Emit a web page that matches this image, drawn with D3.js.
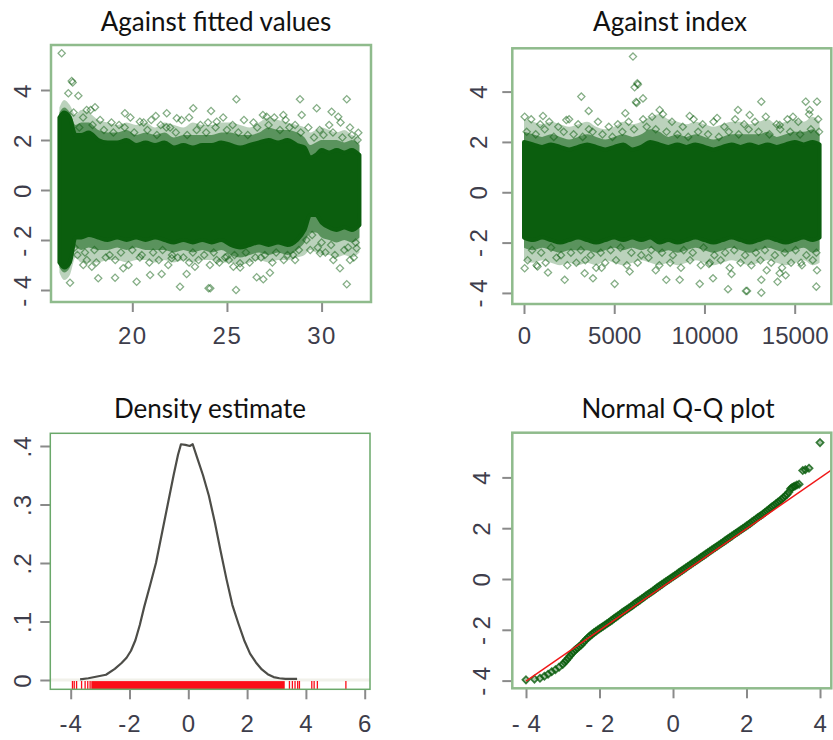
<!DOCTYPE html>
<html>
<head>
<meta charset="utf-8">
<script src="https://cdn.jsdelivr.net/npm/d3@7"></script>
<style>
  body { margin: 0; background: #ffffff; }
  svg { display: block; }
</style>
</head>
<body>
<svg id="chart" width="833" height="740"></svg>
<script>
// ---------------- Residual diagnostics data ----------------

// Residuals against fitted values: envelopes of the saturated core, the mid and the outer fringe
const fitGrid    = [16.15, 16.4, 16.7, 17.0, 17.3, 17.7, 18.2, 18.7, 19.2, 19.7, 20.2, 20.7, 21.2, 21.7, 22.2, 22.7, 23.2, 23.7, 24.2, 24.7, 25.2, 25.7, 26.2, 26.7, 27.2, 27.7, 28.2, 28.7, 29.1, 29.4, 29.7, 30.0, 30.4, 30.8, 31.2, 31.6, 32.0];
const fitCoreHi  = [2.9, 3.1, 2.9, 2.2, 2.2, 2.3, 2.0, 1.9, 1.9, 2.0, 1.8, 1.9, 1.8, 1.9, 1.7, 1.8, 1.7, 1.8, 1.8, 1.9, 1.8, 1.7, 1.8, 1.9, 2.0, 1.9, 2.0, 1.8, 1.7, 1.3, 1.4, 1.6, 1.5, 1.6, 1.5, 1.6, 1.4];
const fitMidHi   = [3.1, 3.3, 3.1, 2.6, 2.7, 2.7, 2.4, 2.3, 2.3, 2.4, 2.2, 2.3, 2.2, 2.3, 2.1, 2.2, 2.2, 2.2, 2.2, 2.3, 2.3, 2.2, 2.2, 2.3, 2.5, 2.4, 2.4, 2.3, 2.1, 1.8, 1.9, 2.0, 2.0, 2.0, 1.9, 2.0, 1.8];
const fitOutHi   = [3.3, 3.6, 3.4, 3.0, 3.2, 3.1, 2.8, 2.7, 2.6, 2.7, 2.6, 2.7, 2.5, 2.7, 2.6, 2.5, 2.7, 2.6, 2.6, 2.7, 2.7, 2.6, 2.5, 2.7, 2.9, 2.8, 2.7, 2.6, 2.5, 2.3, 2.4, 2.5, 2.4, 2.3, 2.4, 2.2, 2.1];
const fitCoreLo  = [-2.9, -3.1, -2.9, -1.9, -1.9, -1.8, -1.9, -2.0, -1.9, -2.0, -1.9, -2.0, -1.9, -2.0, -2.1, -2.0, -2.1, -2.0, -2.1, -2.0, -2.2, -2.3, -2.2, -2.1, -2.2, -2.1, -2.2, -2.0, -1.6, -1.0, -1.0, -1.3, -1.5, -1.6, -1.5, -1.6, -1.4];
const fitMidLo   = [-3.1, -3.3, -3.1, -2.3, -2.4, -2.3, -2.4, -2.4, -2.3, -2.4, -2.3, -2.4, -2.4, -2.4, -2.5, -2.4, -2.5, -2.4, -2.5, -2.4, -2.6, -2.7, -2.6, -2.5, -2.6, -2.5, -2.6, -2.4, -2.1, -1.7, -1.7, -1.9, -2.0, -2.1, -2.0, -2.1, -1.9];
const fitOutLo   = [-3.3, -3.6, -3.4, -2.7, -2.9, -2.9, -2.9, -2.8, -2.8, -2.9, -2.8, -2.8, -2.9, -2.8, -2.9, -2.8, -2.9, -2.8, -2.8, -2.9, -2.9, -3.0, -2.9, -2.8, -2.9, -2.8, -2.8, -2.7, -2.6, -2.4, -2.5, -2.6, -2.6, -2.7, -2.6, -2.7, -2.5];
// single residuals scattered through the fringe of the band
const fitEdgeFitted = [16.9, 17.4, 17.8, 18.3, 18.9, 19.3, 19.9, 20.6, 21.0, 21.5, 22.0, 22.6, 23.0, 23.6, 24.0, 24.8, 25.3, 25.9, 26.4, 26.9, 27.5, 28.1, 28.6, 29.3, 29.9, 30.4, 31.0, 31.5,
                       17.1, 17.6, 18.1, 18.6, 19.1, 19.8, 20.4, 20.9, 21.4, 21.9, 22.4, 23.0, 23.5, 24.1, 24.6, 25.1, 25.7, 26.2, 26.8, 27.4, 28.0, 28.5, 29.4, 29.8, 30.2, 30.7, 31.2, 31.7,
                       17.2, 17.9, 18.5, 19.0, 19.6, 20.1, 20.8, 21.3, 21.8, 22.3, 22.9, 23.4, 23.9, 24.4, 25.0, 25.6, 26.1, 26.6, 27.2, 27.8, 28.3, 28.9, 29.6, 30.1, 30.6, 31.1, 31.6, 31.9,
                       16.95, 17.5, 18.0, 18.8, 19.4, 20.0, 20.5, 21.1, 21.6, 22.1, 22.7, 23.2, 23.8, 24.3, 24.9, 25.4, 26.0, 26.5, 27.0, 27.6, 28.2, 28.8, 29.2, 29.5, 30.0, 30.5, 31.4, 31.8];
const fitEdgeResid  = [3.1, 2.9, 3.2, 2.8, 2.7, 2.6, 2.9, 2.7, 2.8, 2.6, 2.5, 2.8, 2.9, 2.6, 2.7, 2.9, 2.6, 2.8, 2.7, 3.0, 2.9, 2.8, 2.6, 2.5, 2.4, 2.6, 2.7, 2.5,
                       -2.6, -2.8, -2.9, -2.7, -2.8, -3.0, -2.7, -2.9, -2.8, -3.0, -2.7, -2.9, -2.8, -3.0, -2.9, -2.8, -3.1, -2.9, -2.7, -2.9, -2.8, -2.6, -2.4, -2.3, -2.5, -2.6, -2.4, -2.7,
                       2.5, 2.6, 2.4, 2.3, 2.5, 2.3, 2.4, 2.2, 2.5, 2.3, 2.2, 2.4, 2.3, 2.5, 2.4, 2.3, 2.2, 2.5, 2.6, 2.4, 2.5, 2.3, 2.1, 2.2, 2.3, 2.1, 2.2, 2.0,
                       -2.3, -2.5, -2.4, -2.6, -2.5, -2.4, -2.6, -2.5, -2.4, -2.6, -2.7, -2.5, -2.6, -2.5, -2.7, -2.6, -2.5, -2.7, -2.6, -2.5, -2.6, -2.4, -2.0, -1.8, -2.1, -2.2, -2.3, -2.1];
// isolated residuals well outside the band
const fitOutFitted = [16.27, 16.8, 16.85, 16.62, 17.15, 25.5, 28.86, 31.33, 23.22, 24.16, 29.74, 19.61, 21.24, 21.82, 30.53, 30.88, 31.94, 17.59, 18.03, 22.35, 27.1, 27.98, 28.95, 24.46, 20.4,
                      22.52, 24.03, 24.12, 25.48, 31.33, 20.23, 16.71, 18.2, 19.09, 21.55, 20.94, 22.87, 23.31, 26.57, 26.92, 27.27, 30.97, 31.5, 31.85, 30.62, 28.6, 29.92, 17.41, 17.86, 19.52, 22.08, 24.46, 25.34, 25.69, 24.99];
const fitOutResid  = [5.47, 4.36, 4.3, 3.87, 3.77, 3.63, 3.63, 3.63, 3.27, 3.16, 3.27, 3.07, 2.96, 3.07, 3.13, 2.93, 2.29, 3.2, 3.31, 2.87, 2.93, 3.0, 3.0, 2.73, 2.73,
                      -3.87, -3.93, -3.93, -4.0, -3.77, -3.67, -3.71, -3.53, -3.51, -3.36, -3.4, -3.36, -3.07, -3.49, -3.57, -3.31, -3.13, -2.8, -2.33, -2.8, -2.8, -2.53, -3.0, -3.07, -3.13, -2.73, -2.8, -3.07, -2.93, -2.67];

// Residuals against observation index
const idxGrid   = [1, 500, 1000, 1500, 2000, 2500, 3000, 3500, 4000, 4500, 5000, 5500, 6000, 6500, 7000, 7500, 8000, 8500, 9000, 9500, 10000, 10500, 11000, 11500, 12000, 12500, 13000, 13500, 14000, 14500, 15000, 15500, 16000, 16380];
const idxCoreHi = [2.0, 1.9, 1.8, 1.9, 1.8, 1.7, 1.8, 1.9, 1.8, 1.7, 1.8, 1.9, 1.7, 1.8, 2.0, 1.9, 1.8, 1.9, 1.8, 1.9, 1.8, 1.7, 1.8, 1.9, 1.8, 1.9, 1.8, 1.9, 1.8, 1.9, 2.0, 1.9, 2.0, 1.9];
const idxMidHi  = [2.4, 2.3, 2.2, 2.3, 2.2, 2.1, 2.2, 2.3, 2.2, 2.1, 2.2, 2.3, 2.2, 2.3, 2.5, 2.4, 2.2, 2.3, 2.2, 2.3, 2.2, 2.1, 2.2, 2.3, 2.3, 2.3, 2.3, 2.4, 2.2, 2.3, 2.4, 2.4, 2.5, 2.3];
const idxOutHi  = [2.9, 2.8, 2.7, 2.8, 2.7, 2.6, 2.7, 2.8, 2.6, 2.5, 2.6, 2.8, 2.7, 2.8, 3.0, 3.1, 2.9, 2.8, 2.7, 2.8, 2.7, 2.6, 2.7, 2.8, 2.8, 2.7, 2.8, 2.9, 2.7, 2.8, 2.9, 2.8, 3.0, 2.8];
const idxCoreLo = [-1.8, -1.9, -1.8, -1.9, -2.0, -1.9, -1.8, -1.9, -2.0, -1.9, -1.8, -1.9, -1.8, -1.9, -1.8, -2.0, -1.9, -2.0, -1.9, -1.8, -1.9, -2.0, -1.9, -1.8, -1.9, -2.0, -1.9, -1.8, -1.9, -2.0, -1.9, -1.8, -1.9, -1.8];
const idxMidLo  = [-2.2, -2.3, -2.2, -2.3, -2.4, -2.3, -2.3, -2.3, -2.4, -2.3, -2.2, -2.3, -2.2, -2.3, -2.2, -2.4, -2.3, -2.4, -2.3, -2.2, -2.3, -2.4, -2.3, -2.2, -2.3, -2.4, -2.3, -2.2, -2.3, -2.4, -2.3, -2.2, -2.4, -2.3];
const idxOutLo  = [-2.7, -2.8, -2.7, -2.8, -2.9, -2.8, -2.9, -2.8, -2.9, -2.7, -2.8, -2.9, -2.8, -2.7, -2.8, -2.9, -2.8, -2.9, -2.8, -2.7, -2.8, -2.9, -2.8, -2.7, -2.8, -2.9, -2.8, -2.7, -2.8, -2.9, -2.8, -2.7, -2.9, -2.8];
const idxEdgeIndex = [400, 900, 1400, 1900, 2500, 3000, 3600, 4100, 4700, 5200, 5800, 6600, 7100, 7700, 8200, 8800, 9400, 9900, 10500, 11100, 11700, 12200, 12800, 13400, 14000, 14600, 15200, 15800, 16300,
                      200, 700, 1200, 1800, 2400, 2900, 3400, 4000, 4500, 5100, 5700, 6300, 6900, 7500, 8100, 8700, 9200, 9800, 10300, 10900, 11400, 12000, 12600, 13100, 13700, 14300, 14800, 15400, 16000,
                      150, 650, 1150, 1650, 2200, 2750, 3250, 3800, 4350, 4900, 5450, 6100, 6800, 7300, 7900, 8500, 9100, 9650, 10200, 10800, 11350, 11900, 12450, 13000, 13600, 14200, 14750, 15300, 15900, 16350,
                      450, 950, 1500, 2050, 2600, 3150, 3700, 4250, 4800, 5350, 5950, 6500, 7050, 7650, 8250, 8850, 9350, 9950, 10550, 11150, 11650, 12250, 12850, 13350, 13900, 14450, 15050, 15650, 16200];
const idxEdgeResid = [2.9, 2.7, 2.8, 2.6, 2.9, 2.7, 2.5, 2.8, 2.6, 2.7, 2.8, 2.9, 3.0, 3.1, 2.8, 2.6, 2.9, 2.7, 2.8, 2.6, 2.9, 2.7, 2.8, 3.0, 2.7, 2.9, 2.8, 3.1, 2.9,
                      -2.7, -2.9, -2.8, -2.6, -2.9, -2.8, -2.7, -3.0, -2.8, -2.7, -2.9, -2.8, -2.6, -2.9, -2.8, -3.0, -2.7, -2.9, -2.8, -2.7, -3.0, -2.8, -2.9, -2.7, -2.8, -3.0, -2.8, -2.9, -2.7,
                      2.4, 2.3, 2.5, 2.2, 2.4, 2.3, 2.2, 2.4, 2.3, 2.2, 2.4, 2.5, 2.6, 2.5, 2.4, 2.3, 2.2, 2.4, 2.3, 2.2, 2.4, 2.3, 2.5, 2.4, 2.3, 2.5, 2.4, 2.3, 2.5, 2.4,
                      -2.3, -2.4, -2.2, -2.5, -2.4, -2.3, -2.5, -2.4, -2.3, -2.2, -2.4, -2.5, -2.3, -2.4, -2.5, -2.3, -2.4, -2.2, -2.5, -2.4, -2.3, -2.5, -2.4, -2.3, -2.5, -2.4, -2.3, -2.5, -2.4];
const idxOutIndex = [6040, 6280, 6310, 6130, 3177, 6595, 6206, 6240, 3584, 5615, 37, 1053, 13150, 15610, 16236, 11859, 9181, 7518, 15832, 14906, 14169, 12505, 10700, 2346,
                     37, 750, 1330, 2254, 3362, 3823, 5024, 5855, 7300, 7886, 8628, 9737, 10474, 11305, 12300, 12360, 13150, 13150, 14169, 14050, 14500, 16198, 16236, 15350, 13450, 11500, 10250, 4300];
const idxOutResid = [5.39, 4.33, 4.28, 4.17, 3.8, 3.73, 3.59, 3.55, 3.23, 3.14, 3.0, 3.03, 3.6, 3.6, 3.6, 3.27, 3.03, 3.27, 3.27, 3.0, 2.67, 3.07, 2.95, 2.87,
                     -3.02, -2.95, -3.19, -3.48, -3.22, -3.42, -3.64, -3.15, -3.1, -3.48, -3.48, -3.64, -3.42, -3.85, -3.92, -3.92, -3.99, -3.48, -3.22, -3.56, -3.3, -3.75, -3.1, -2.8, -3.1, -3.25, -2.85, -3.0];

// Kernel density estimate of the residuals
const densX = [-3.68, -3.4, -3.1, -2.8, -2.5, -2.27, -2.1, -1.95, -1.8, -1.65, -1.5, -1.3, -1.1, -0.9, -0.7, -0.5, -0.35, -0.25, -0.1, 0.05, 0.15, 0.3, 0.5, 0.7, 0.9, 1.1, 1.3, 1.5, 1.7, 1.9, 2.1, 2.3, 2.5, 2.7, 2.9, 3.1, 3.3, 3.5, 3.7];
const densY = [0.001, 0.003, 0.006, 0.009, 0.019, 0.029, 0.038, 0.05, 0.068, 0.094, 0.125, 0.162, 0.2, 0.25, 0.3, 0.35, 0.385, 0.403, 0.402, 0.4, 0.403, 0.38, 0.35, 0.315, 0.27, 0.22, 0.172, 0.128, 0.097, 0.068, 0.045, 0.03, 0.018, 0.01, 0.005, 0.003, 0.002, 0.002, 0.002];
// rug: solid run of residuals plus the sparse tail values
const rugRun   = [-3.3, 3.28];
const rugTicks = [-3.94, -3.88, -3.8, -3.63, -3.51, -3.42, -3.34, 3.44, 3.54, 3.63, 3.72, 3.78, 4.2, 4.28, 4.39, 5.36];

// Normal Q-Q plot: theoretical vs sample quantiles
const qqTheo = [-4.0, -3.77, -3.62, -3.5, -3.4, -3.3, -3.2, -3.1, -3.0, -2.95, -2.9, -2.85, -2.8, -2.75, -2.7, -2.65, -2.6, -2.55, -2.5, -2.45,
  -2.4, -2.35, -2.3, -2.25, -2.2, -2.15, -2.1, -2.05, -2.0, -1.95, -1.9, -1.85, -1.8, -1.75, -1.7, -1.65, -1.6, -1.55, -1.5, -1.45,
  -1.4, -1.35, -1.3, -1.25, -1.2, -1.15, -1.1, -1.05, -1.0, -0.95, -0.9, -0.85, -0.8, -0.75, -0.7, -0.65, -0.6, -0.55, -0.5, -0.45,
  -0.4, -0.35, -0.3, -0.25, -0.2, -0.15, -0.1, -0.05, 0.0, 0.05, 0.1, 0.15, 0.2, 0.25, 0.3, 0.35, 0.4, 0.45, 0.5, 0.55,
  0.6, 0.65, 0.7, 0.75, 0.8, 0.85, 0.9, 0.95, 1.0, 1.05, 1.1, 1.15, 1.2, 1.25, 1.3, 1.35, 1.4, 1.45, 1.5, 1.55,
  1.6, 1.65, 1.7, 1.75, 1.8, 1.85, 1.9, 1.95, 2.0, 2.05, 2.1, 2.15, 2.2, 2.25, 2.3, 2.35, 2.4, 2.45,
  2.5, 2.55, 2.6, 2.65, 2.7, 2.75, 2.8, 2.85, 2.9, 2.95, 3.0, 3.05, 3.1, 3.15, 3.2, 3.24, 3.28, 3.32, 3.37, 3.43, 3.53, 3.6, 3.7, 4.0];
const qqSample = [-3.97, -3.94, -3.91, -3.83, -3.75, -3.65, -3.57, -3.47, -3.36, -3.28, -3.2, -3.11, -3.02, -2.93, -2.85, -2.78, -2.72, -2.66, -2.6, -2.52,
  -2.43, -2.36, -2.29, -2.23, -2.17, -2.11, -2.06, -2.01, -1.96, -1.91, -1.86, -1.81, -1.76, -1.71, -1.66, -1.61, -1.55, -1.5, -1.45, -1.4,
  -1.34, -1.29, -1.24, -1.19, -1.14, -1.09, -1.04, -0.98, -0.93, -0.88, -0.83, -0.78, -0.73, -0.67, -0.62, -0.57, -0.52, -0.47, -0.42, -0.36,
  -0.31, -0.26, -0.21, -0.16, -0.11, -0.06, -0.01, 0.04, 0.09, 0.14, 0.19, 0.24, 0.29, 0.34, 0.39, 0.44, 0.49, 0.54, 0.59, 0.64,
  0.69, 0.74, 0.79, 0.84, 0.89, 0.94, 0.99, 1.04, 1.09, 1.14, 1.19, 1.24, 1.29, 1.34, 1.39, 1.44, 1.49, 1.54, 1.59, 1.64,
  1.69, 1.74, 1.79, 1.84, 1.89, 1.94, 1.99, 2.04, 2.09, 2.14, 2.19, 2.25, 2.3, 2.35, 2.41, 2.46, 2.51, 2.56,
  2.62, 2.68, 2.73, 2.79, 2.85, 2.9, 2.96, 3.02, 3.07, 3.13, 3.2, 3.27, 3.33, 3.42, 3.55, 3.6, 3.63, 3.66, 3.7, 3.73, 4.27, 4.3, 4.36, 5.37];
// reference line through the quartiles: [intercept, slope], drawn from the smallest quantile onward
const qqLine = [-0.02, 1.0];
const qqLineRange = [-4.0, 4.5];

// ---------------- Styling ----------------
const GREEN = "#0b5e0e";
const FRAME_LIGHT = "#8fbb8c";
const FRAME_DENS = "#6aa86a";
const TICK_COL = "#8a8a8a";
const LABEL_COL = "#3d3d4b";
const TITLE_FONT = "Lato, 'Open Sans', sans-serif";
const TICK_FONT = "'Liberation Sans', Arial, sans-serif";

const svg = d3.select("#chart");

// Panel frames in page pixels
const panels = {
  fitted: { x0: 51,    x1: 371,   y0: 45,    y1: 302,   xd: [15.705, 32.61], yd: [-4.48, 5.8],
            title: "Against fitted values", titleX: 216, titleY: 31,
            yLabX: 22, xLabY: 344, frame: FRAME_LIGHT, frameW: 2.5 },
  index:  { x0: 512.3, x1: 831.3, y0: 48.3,  y1: 304,   xd: [-648, 17029], yd: [-4.44, 5.72],
            title: "Against index", titleX: 670, titleY: 31,
            yLabX: 478, xLabY: 344, frame: FRAME_LIGHT, frameW: 2.5 },
  dens:   { x0: 50.3,  x1: 370,   y0: 433.3, y1: 689.3, xd: [-4.694, 6.18], yd: [-0.0159, 0.4217],
            title: "Density estimate", titleX: 210, titleY: 418,
            yLabX: 22, xLabY: 732, frame: FRAME_DENS, frameW: 1.5 },
  qq:     { x0: 512.3, x1: 831.3, y0: 432.7, y1: 688.3, xd: [-4.373, 4.307], yd: [-4.303, 5.76],
            title: "Normal Q-Q plot", titleX: 678, titleY: 418,
            yLabX: 481, xLabY: 732, frame: FRAME_LIGHT, frameW: 2.5 }
};

const yResTicks = [-4, -2, 0, 2, 4];
const yResLabels = ["- 4", "- 2", "0", "2", "4"];
const tickSpec = {
  fitted: { xt: [20, 25, 30], xl: ["20", "25", "30"], yt: yResTicks, yl: yResLabels, ls: 1.5 },
  index:  { xt: [0, 5000, 10000, 15000], xl: ["0", "5000", "10000", "15000"], yt: yResTicks, yl: yResLabels, ls: 0 },
  dens:   { xt: [-4, -2, 0, 2, 4, 6], xl: ["-4", "-2", "0", "2", "4", "6"], yt: [0, 0.1, 0.2, 0.3, 0.4], yl: ["0", ".1", ".2", ".3", ".4"], ls: 1 },
  qq:     { xt: [-4, -2, 0, 2, 4], xl: ["- 4", "- 2", "0", "2", "4"], yt: yResTicks, yl: yResLabels, ls: 0.5 }
};

function diamond(r) {
  return `M0,${-r}L${r},0L0,${r}L${-r},0Z`;
}

function buildPanel(key) {
  const p = panels[key];
  const t = tickSpec[key];
  const x = d3.scaleLinear().domain(p.xd).range([p.x0, p.x1]);
  const y = d3.scaleLinear().domain(p.yd).range([p.y1, p.y0]);
  const g = svg.append("g").attr("class", "panel-" + key);

  const clipId = "clip-" + key;
  svg.append("clipPath").attr("id", clipId)
    .append("rect").attr("x", p.x0).attr("y", p.y0)
    .attr("width", p.x1 - p.x0).attr("height", p.y1 - p.y0);

  const plot = g.append("g").attr("clip-path", `url(#${clipId})`);

  // axes: tick marks from d3, labels repositioned (y labels run along the axis)
  const xAxis = g.append("g").attr("transform", `translate(0,${p.y1})`)
    .call(d3.axisBottom(x).tickValues(t.xt).tickSize(10).tickFormat((d, i) => t.xl[i]));
  const yAxis = g.append("g").attr("transform", `translate(${p.x0},0)`)
    .call(d3.axisLeft(y).tickValues(t.yt).tickSize(10).tickFormat((d, i) => t.yl[i]));
  [xAxis, yAxis].forEach(a => {
    a.select(".domain").remove();
    a.selectAll(".tick line").attr("stroke", TICK_COL).attr("stroke-width", 2);
    a.selectAll(".tick text")
      .attr("fill", LABEL_COL)
      .style("font-family", TICK_FONT)
      .style("font-size", "24px")
      .style("letter-spacing", t.ls + "px");
  });
  xAxis.selectAll(".tick text")
    .attr("y", p.xLabY - p.y1).attr("dy", null)
    .attr("text-anchor", "middle");
  yAxis.selectAll(".tick text")
    .attr("x", 0).attr("dy", null)
    .attr("y", p.yLabX - p.x0)
    .attr("transform", "rotate(-90)")
    .attr("text-anchor", "middle")
    .attr("dominant-baseline", "central");

  g.append("text")
    .attr("x", p.titleX).attr("y", p.titleY)
    .attr("text-anchor", "middle")
    .style("font-family", TITLE_FONT)
    .style("font-size", "26px")
    .attr("fill", "#111")
    .text(p.title);

  return { g, plot, x, y, p };
}

function drawFrame(panel) {
  const p = panel.p;
  panel.g.append("rect")
    .attr("x", p.x0).attr("y", p.y0)
    .attr("width", p.x1 - p.x0).attr("height", p.y1 - p.y0)
    .attr("fill", "none")
    .attr("stroke", p.frame).attr("stroke-width", p.frameW);
}

// filled band between two envelopes; the saturated core gets a marker-wide rim
function drawBand(panel, grid, lo, hi, opacity, rim) {
  const area = d3.area()
    .x((d, i) => panel.x(grid[i]))
    .y0((d, i) => panel.y(lo[i]))
    .y1((d, i) => panel.y(hi[i]))
    .curve(d3.curveMonotoneX);
  panel.plot.append("path")
    .datum(grid)
    .attr("d", area)
    .attr("fill", GREEN)
    .attr("fill-opacity", opacity)
    .attr("stroke", rim ? GREEN : "none")
    .attr("stroke-width", rim ? 4 : 0)
    .attr("stroke-linejoin", "round");
}

function drawPoints(panel, xs, ys, opacity, width, fillOpacity) {
  panel.plot.append("g").selectAll("path")
    .data(xs)
    .join("path")
    .attr("transform", (d, i) => `translate(${panel.x(xs[i])},${panel.y(ys[i])})`)
    .attr("d", diamond(3.6))
    .attr("fill", fillOpacity ? GREEN : "none")
    .attr("fill-opacity", fillOpacity || 0)
    .attr("stroke", GREEN)
    .attr("stroke-opacity", opacity)
    .attr("stroke-width", width || 1.3);
}

// ---- Against fitted values ----
const pf = buildPanel("fitted");
drawBand(pf, fitGrid, fitOutLo, fitOutHi, 0.28, false);
drawBand(pf, fitGrid, fitMidLo, fitMidHi, 0.55, false);
drawBand(pf, fitGrid, fitCoreLo, fitCoreHi, 1, true);
drawPoints(pf, fitEdgeFitted, fitEdgeResid, 0.5);
drawPoints(pf, fitOutFitted, fitOutResid, 0.5);
drawFrame(pf);

// ---- Against index ----
const pi = buildPanel("index");
drawBand(pi, idxGrid, idxOutLo, idxOutHi, 0.28, false);
drawBand(pi, idxGrid, idxMidLo, idxMidHi, 0.55, false);
drawBand(pi, idxGrid, idxCoreLo, idxCoreHi, 1, true);
drawPoints(pi, idxEdgeIndex, idxEdgeResid, 0.5);
drawPoints(pi, idxOutIndex, idxOutResid, 0.5);
drawFrame(pi);

// ---- Density estimate ----
const pd = buildPanel("dens");
pd.plot.append("line")
  .attr("x1", pd.p.x0).attr("x2", pd.p.x1)
  .attr("y1", pd.y(0)).attr("y2", pd.y(0))
  .attr("stroke", "#f1f1ea").attr("stroke-width", 3);
const rugTop = pd.p.y1 - 0.032 * (pd.p.y1 - pd.p.y0);
pd.plot.append("rect")
  .attr("x", pd.x(rugRun[0])).attr("width", pd.x(rugRun[1]) - pd.x(rugRun[0]))
  .attr("y", rugTop).attr("height", pd.p.y1 - rugTop)
  .attr("fill", "#fb0d18");
pd.plot.append("g").selectAll("line")
  .data(rugTicks)
  .join("line")
  .attr("x1", d => pd.x(d)).attr("x2", d => pd.x(d))
  .attr("y1", rugTop).attr("y2", pd.p.y1)
  .attr("stroke", "#fb0d18").attr("stroke-width", 1.3);
pd.plot.append("path")
  .datum(densX)
  .attr("d", d3.line().x((d, i) => pd.x(densX[i])).y((d, i) => pd.y(densY[i])))
  .attr("fill", "none")
  .attr("stroke", "#4d4d48")
  .attr("stroke-width", 2.2)
  .attr("stroke-linejoin", "round");
drawFrame(pd);

// ---- Normal Q-Q plot ----
const pq = buildPanel("qq");
drawPoints(pq, qqTheo, qqSample, 0.8, 1.7, 0.35);
pq.plot.append("line")
  .attr("x1", pq.x(qqLineRange[0])).attr("y1", pq.y(qqLine[0] + qqLine[1] * qqLineRange[0]))
  .attr("x2", pq.x(qqLineRange[1])).attr("y2", pq.y(qqLine[0] + qqLine[1] * qqLineRange[1]))
  .attr("stroke", "#f01818").attr("stroke-width", 1.5);
drawFrame(pq);
</script>
</body>
</html>
